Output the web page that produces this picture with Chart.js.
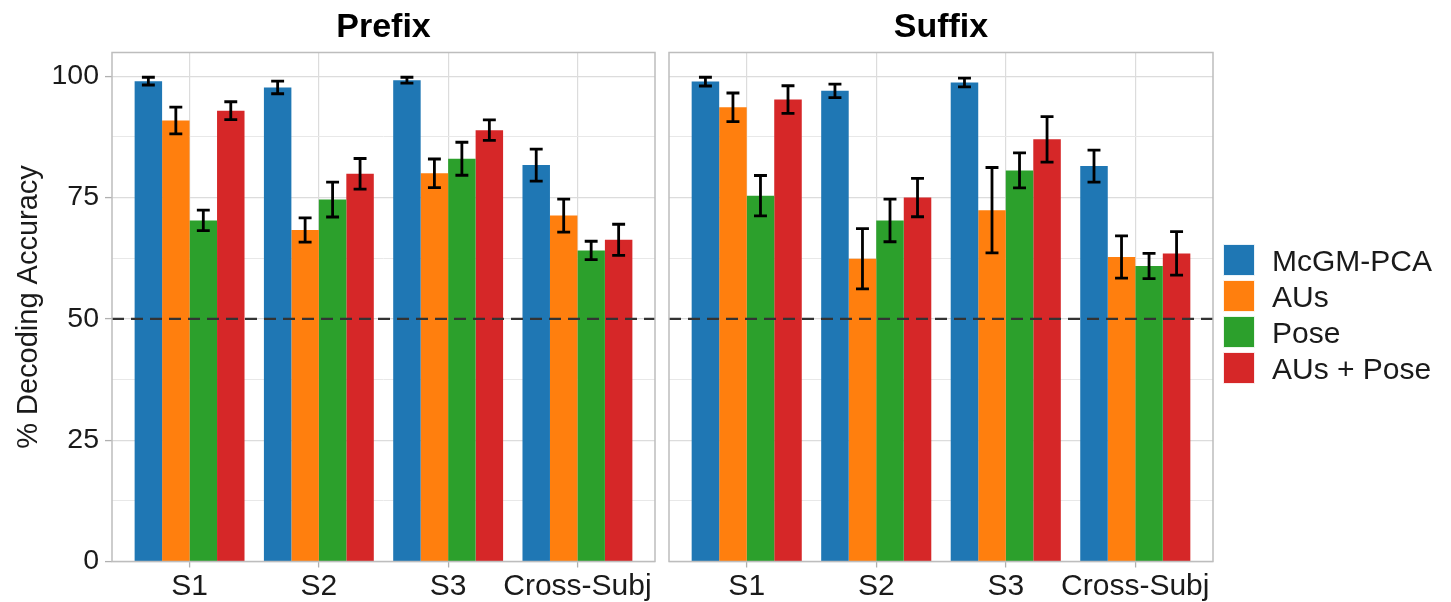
<!DOCTYPE html>
<html>
<head>
<meta charset="utf-8">
<title>% Decoding Accuracy — Prefix / Suffix</title>
<script src="https://cdn.jsdelivr.net/npm/chart.js@4/dist/chart.umd.min.js"></script>
<style>
  html, body { margin: 0; padding: 0; background: #ffffff; }
  #wrap { position: relative; width: 1451px; height: 602px; overflow: hidden; }
  #wrap canvas { position: absolute; top: 0; }
</style>
</head>
<body>
<div id="wrap">
  <canvas id="prefixChart" width="662" height="602" style="left:0px"></canvas>
  <canvas id="suffixChart" width="789" height="602" style="left:662px"></canvas>
</div>
<script>
// ---- data ----------------------------------------------------------------
const categories = ['S1', 'S2', 'S3', 'Cross-Subj'];
const seriesNames = ['McGM-PCA', 'AUs', 'Pose', 'AUs + Pose'];
const seriesColors = ['#1f77b4', '#ff7f0e', '#2ca02c', '#d62728'];
const panelTitles = ['Prefix', 'Suffix'];

// Prefix: mean accuracy and error half-widths
const prefixMcGM     = [99.0, 97.7, 99.2, 81.7];
const prefixAUs      = [90.9, 68.3, 80.0, 71.3];
const prefixPose     = [70.3, 74.6, 83.0, 64.1];
const prefixAUsPose  = [92.9, 79.9, 88.9, 66.3];
const prefixMcGMErr    = [0.8, 1.3, 0.6, 3.3];
const prefixAUsErr     = [2.75, 2.5, 2.95, 3.4];
const prefixPoseErr    = [2.1, 3.6, 3.4, 1.9];
const prefixAUsPoseErr = [1.85, 3.15, 2.1, 3.2];

// Suffix: mean accuracy and error half-widths
const suffixMcGM     = [98.9, 97.0, 98.7, 81.5];
const suffixAUs      = [93.6, 62.4, 72.4, 62.75];
const suffixPose     = [75.4, 70.3, 80.6, 60.9];
const suffixAUsPose  = [95.2, 75.0, 87.0, 63.5];
const suffixMcGMErr    = [0.9, 1.4, 0.9, 3.3];
const suffixAUsErr     = [2.95, 6.2, 8.8, 4.35];
const suffixPoseErr    = [4.15, 4.4, 3.6, 2.6];
const suffixAUsPoseErr = [2.85, 3.95, 4.7, 4.5];

// y axis
const yMajorTicks = [0, 25, 50, 75, 100];
const yMinorTicks = [12.5, 37.5, 62.5, 87.5];
const yMax = 104.9;
const chanceLevel = 50;

// ---- styling ---------------------------------------------------------------
const FONT = "'Liberation Sans', Arial, Helvetica, sans-serif";
const TEXT = '#1a1a1a';
const GRID_MAJOR = '#dcdcdc';
const GRID_MINOR = '#e8e8e8';
const BORDER = '#bdbdbd';
const TICK_MARK = '#b0b0b0';

const yGridTicks = yMajorTicks.concat(yMinorTicks).sort((a, b) => a - b);
const isMajor = v => yMajorTicks.includes(v);

function buildDatasets(means, errs) {
  return means.map((vals, s) => ({
    label: seriesNames[s],
    data: vals.map((v, i) => ({ x: i + 1, y: v })),
    errors: errs[s],
    backgroundColor: seriesColors[s],
    borderWidth: 0,
    categoryPercentage: 0.85,
    barPercentage: 1.0
  }));
}

// Error bars: vertical whisker with caps, positioned from each bar element
const errorBarPlugin = {
  id: 'errorBars',
  afterDatasetsDraw(chart) {
    const ctx = chart.ctx;
    const y = chart.scales.y;
    ctx.save();
    ctx.strokeStyle = '#000000';
    ctx.lineWidth = 2.8;
    ctx.lineCap = 'butt';
    chart.data.datasets.forEach((ds, di) => {
      const meta = chart.getDatasetMeta(di);
      meta.data.forEach((bar, i) => {
        const mean = ds.data[i].y;
        const e = ds.errors[i];
        const top = y.getPixelForValue(mean + e);
        const bot = y.getPixelForValue(mean - e);
        const half = bar.width * 0.235;
        ctx.beginPath();
        ctx.moveTo(bar.x, top); ctx.lineTo(bar.x, bot);
        ctx.moveTo(bar.x - half, top); ctx.lineTo(bar.x + half, top);
        ctx.moveTo(bar.x - half, bot); ctx.lineTo(bar.x + half, bot);
        ctx.stroke();
      });
    });
    ctx.restore();
  }
};

// Dashed chance-level line, panel frame and panel heading
const panelPlugin = {
  id: 'panelDecor',
  afterDatasetsDraw(chart, args, opts) {
    const ctx = chart.ctx;
    const a = chart.chartArea;
    const yPix = chart.scales.y.getPixelForValue(chanceLevel);
    ctx.save();
    ctx.strokeStyle = '#333333';
    ctx.lineWidth = 2.4;
    ctx.setLineDash([12, 7]);
    ctx.beginPath();
    ctx.moveTo(a.left, yPix);
    ctx.lineTo(a.right, yPix);
    ctx.stroke();
    ctx.setLineDash([]);
    ctx.strokeStyle = BORDER;
    ctx.lineWidth = 1.5;
    ctx.strokeRect(a.left, a.top, a.right - a.left, a.bottom - a.top);
    ctx.fillStyle = '#000000';
    ctx.font = `bold 34px ${FONT}`;
    ctx.textAlign = 'center';
    ctx.textBaseline = 'alphabetic';
    ctx.fillText(opts.title, (a.left + a.right) / 2, 36.5);
    ctx.restore();
  }
};

// Legend keys drawn in the right-hand margin of the second panel
const sideLegendPlugin = {
  id: 'sideLegend',
  afterDraw(chart, args, opts) {
    if (!opts.show) return;
    const ctx = chart.ctx;
    const x0 = chart.chartArea.right + 10;
    const y0 = 244;
    const pitch = 36;
    const size = 32;
    ctx.save();
    ctx.font = `30px ${FONT}`;
    ctx.textAlign = 'left';
    ctx.textBaseline = 'alphabetic';
    chart.data.datasets.forEach((ds, i) => {
      const yy = y0 + i * pitch;
      ctx.fillStyle = ds.backgroundColor;
      ctx.fillRect(x0, yy, size, size);
      ctx.strokeStyle = 'rgba(255,255,255,0.9)';
      ctx.lineWidth = 1;
      ctx.strokeRect(x0 + 0.5, yy + 0.5, size - 1, size - 1);
      ctx.fillStyle = TEXT;
      ctx.fillText(ds.label, x0 + size + 17, yy + size / 2 + 10.8);
    });
    ctx.restore();
  }
};

function makeChart(canvasId, means, errs, title, withYAxis, padding) {
  return new Chart(document.getElementById(canvasId), {
    type: 'bar',
    data: { datasets: buildDatasets(means, errs) },
    options: {
      responsive: false,
      animation: false,
      devicePixelRatio: 1,
      layout: { padding },
      plugins: {
        legend: { display: false },
        tooltip: { enabled: false },
        panelDecor: { title },
        sideLegend: { show: !withYAxis }
      },
      scales: {
        x: {
          type: 'linear',
          min: 0.4,
          max: 4.6,
          offset: false,
          bounds: 'data',
          afterBuildTicks: s => { s.ticks = categories.map((c, i) => ({ value: i + 1 })); },
          afterFit: s => { s.height = 40.5; },
          ticks: {
            autoSkip: false,
            maxRotation: 0,
            minRotation: 0,
            padding: 1,
            color: TEXT,
            font: { size: 30, family: FONT },
            callback: v => categories[Math.round(v) - 1] ?? ''
          },
          grid: {
            offset: false,
            color: GRID_MAJOR,
            lineWidth: 1.2,
            drawTicks: true,
            tickLength: 6,
            tickColor: TICK_MARK,
            tickWidth: 1.3
          },
          border: { display: false }
        },
        y: {
          min: 0,
          max: yMax,
          bounds: 'data',
          afterBuildTicks: s => { s.ticks = yGridTicks.map(v => ({ value: v })); },
          afterFit: s => { s.width = withYAxis ? 112 : 0; },
          ticks: {
            display: withYAxis,
            padding: 6,
            color: TEXT,
            font: { size: 28.5, family: FONT },
            callback: v => isMajor(v) ? String(v) : ''
          },
          grid: {
            color: c => isMajor(c.tick.value) ? GRID_MAJOR : GRID_MINOR,
            lineWidth: c => isMajor(c.tick.value) ? 1.2 : 1,
            drawTicks: withYAxis,
            tickLength: 7,
            tickWidth: 1.3,
            tickColor: c => isMajor(c.tick.value) ? TICK_MARK : 'rgba(0,0,0,0)'
          },
          border: { display: false },
          title: {
            display: withYAxis,
            text: '% Decoding Accuracy',
            color: TEXT,
            font: { size: 29, family: FONT },
            padding: { top: 12, bottom: 0 }
          }
        }
      }
    },
    plugins: [panelPlugin, errorBarPlugin, sideLegendPlugin]
  });
}

makeChart('prefixChart',
  [prefixMcGM, prefixAUs, prefixPose, prefixAUsPose],
  [prefixMcGMErr, prefixAUsErr, prefixPoseErr, prefixAUsPoseErr],
  panelTitles[0], true,
  { top: 52.5, right: 7, bottom: 0, left: 0 });

makeChart('suffixChart',
  [suffixMcGM, suffixAUs, suffixPose, suffixAUsPose],
  [suffixMcGMErr, suffixAUsErr, suffixPoseErr, suffixAUsPoseErr],
  panelTitles[1], false,
  { top: 52.5, right: 238, bottom: 0, left: 7 });
</script>
</body>
</html>
